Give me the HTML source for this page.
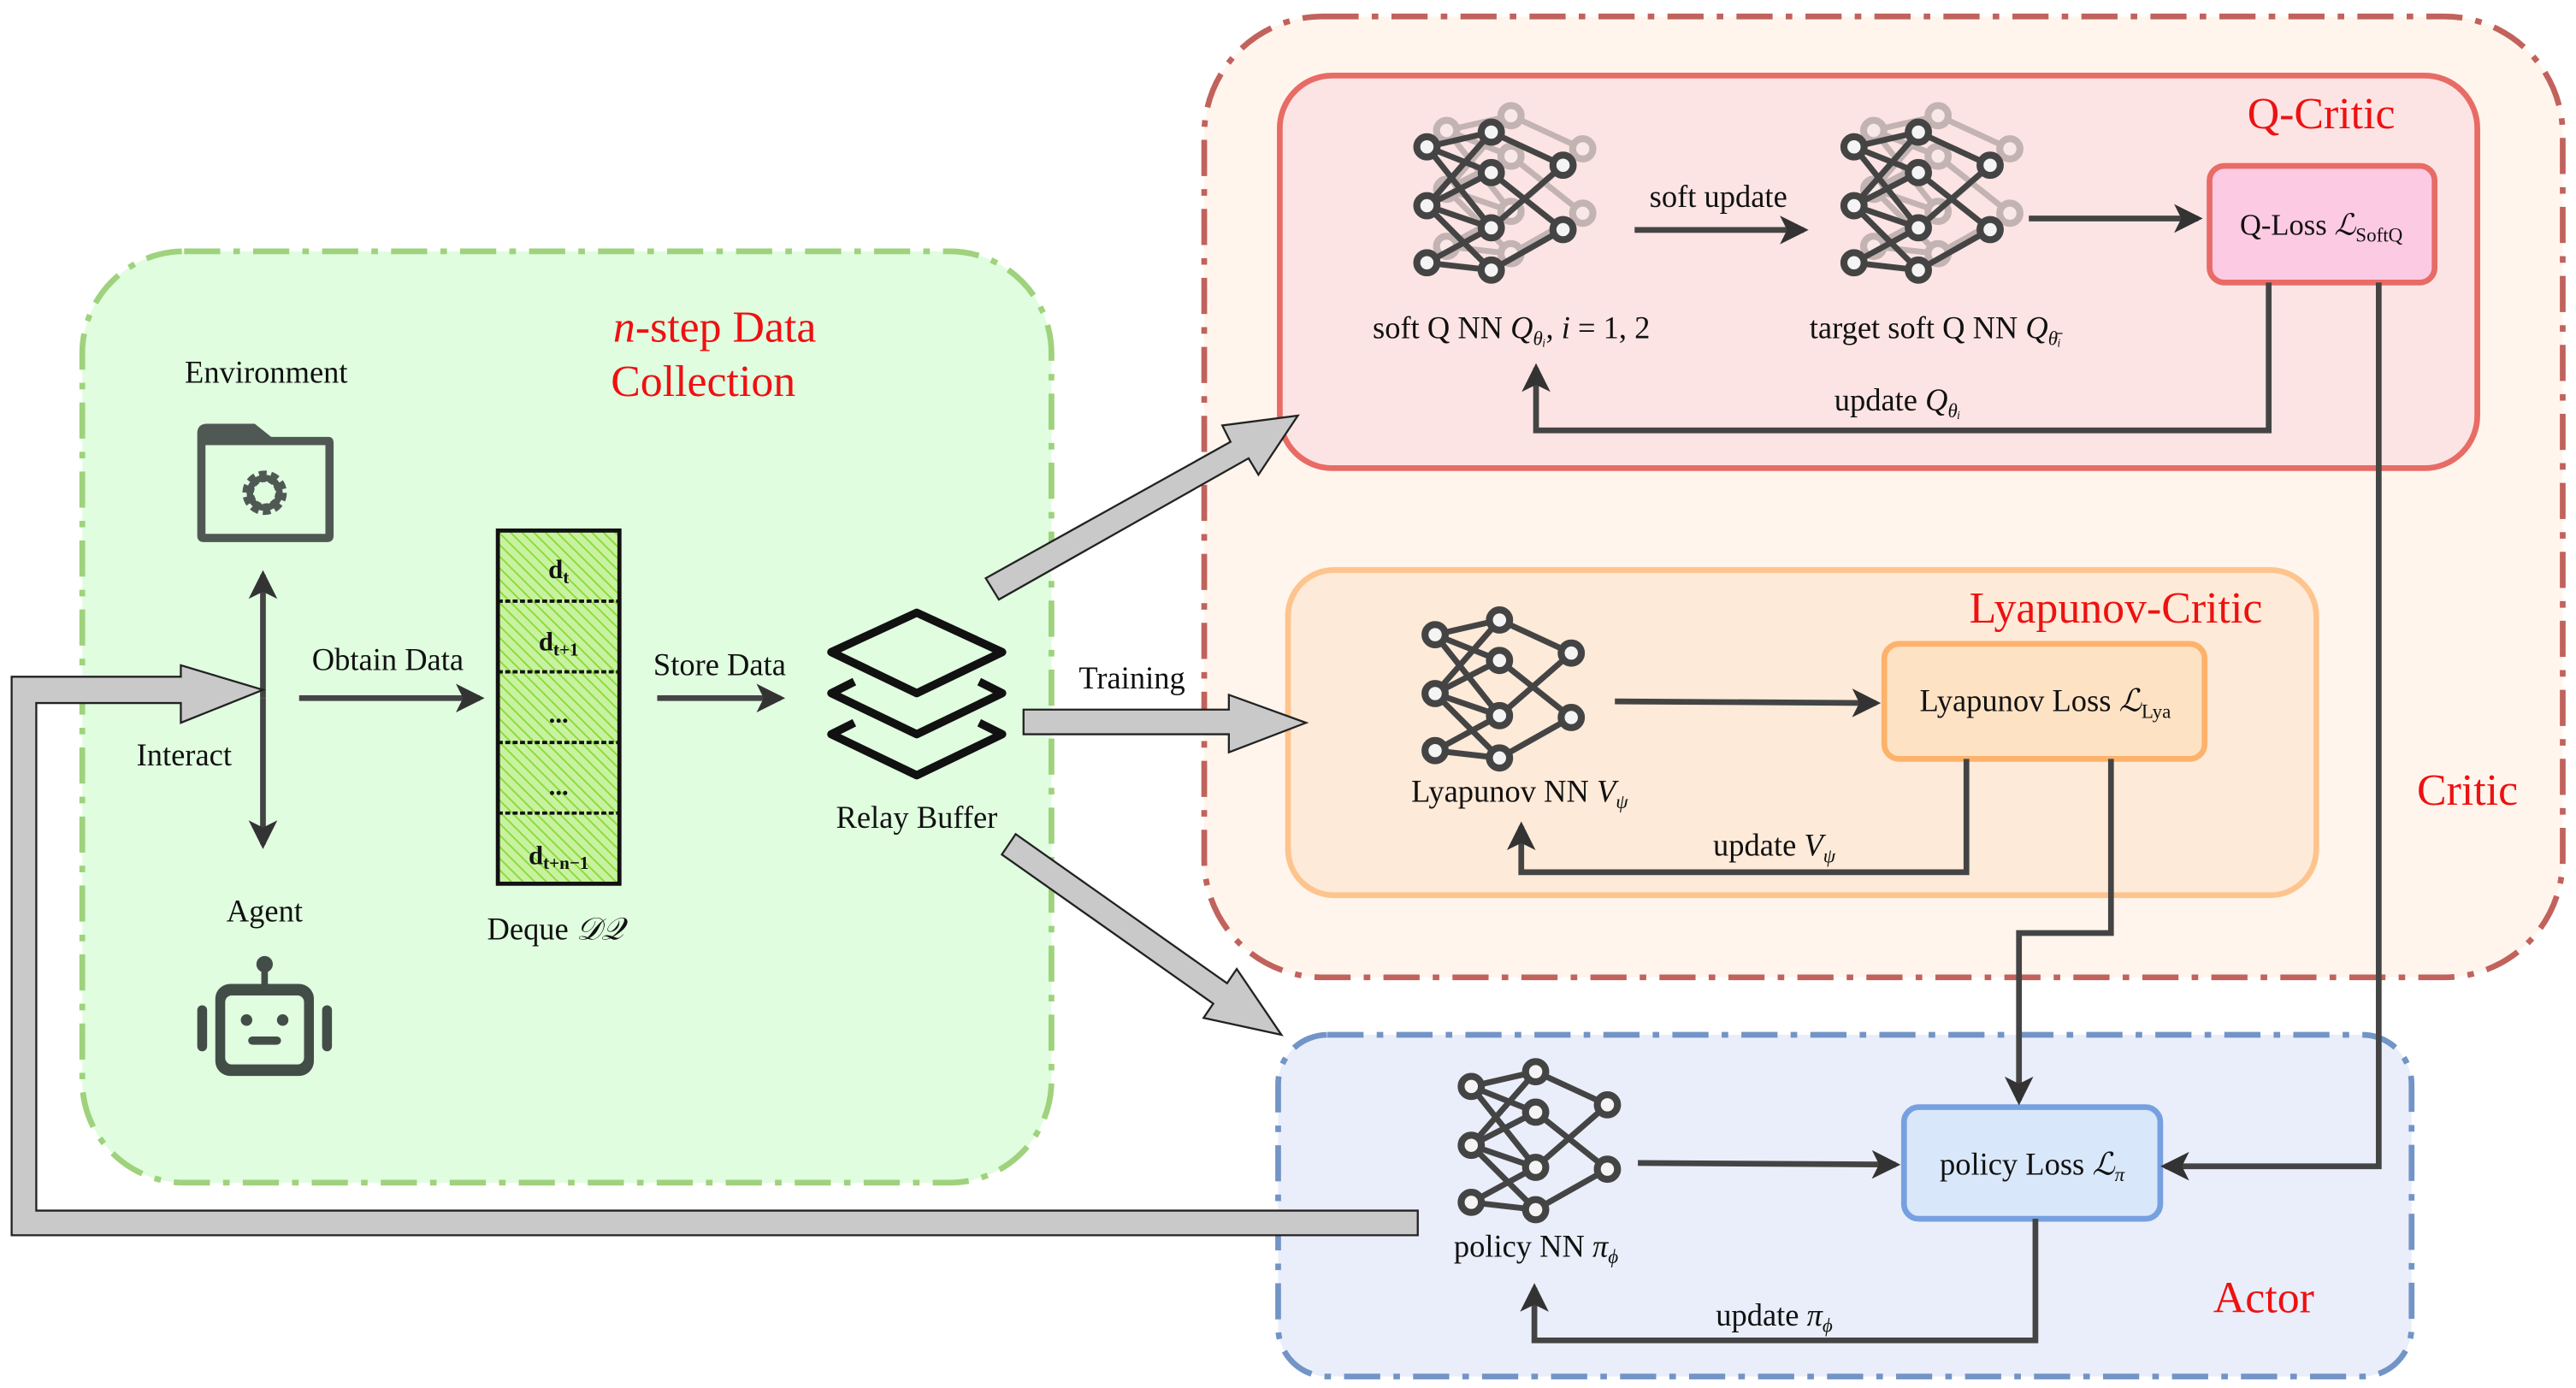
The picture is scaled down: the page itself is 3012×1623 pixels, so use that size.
<!DOCTYPE html>
<html><head><meta charset="utf-8"><style>
html,body{margin:0;padding:0;background:#fff;}
svg{display:block;}
text{font-family:"Liberation Serif",serif;}
</style></head><body>
<svg width="3012" height="1623" viewBox="0 0 1568 845" xmlns="http://www.w3.org/2000/svg">
<defs>
<marker id="ah" viewBox="0 0 12 12" refX="10" refY="6" markerWidth="5" markerHeight="5" orient="auto" markerUnits="strokeWidth">
<path d="M0,0 L12,6 L0,12 L3,6 Z" fill="#333"/></marker>
<g id="nn">
<g stroke="#444" stroke-width="3.2" fill="none">
<path d="M-37,-30 L-2,-38 M-37,-30 L-2,-16 M-37,-30 L-2,14 M-37,2 L-2,-38 M-37,2 L-2,-16 M-37,2 L-2,14 M-37,2 L-2,37 M-37,33 L-2,14 M-37,33 L-2,37 M-2,-38 L37,-20 M-2,-16 L37,15 M-2,14 L37,-20 M-2,37 L37,15"/>
</g>
<g stroke="#444" stroke-width="3.8" fill="#f4f4f4">
<circle cx="-37" cy="-30" r="5.5"/><circle cx="-37" cy="2" r="5.5"/><circle cx="-37" cy="33" r="5.5"/>
<circle cx="-2" cy="-38" r="5.5"/><circle cx="-2" cy="-16" r="5.5"/><circle cx="-2" cy="14" r="5.5"/><circle cx="-2" cy="37" r="5.5"/>
<circle cx="37" cy="-20" r="5.5"/><circle cx="37" cy="15" r="5.5"/>
</g>
</g>
</defs>

<rect x="50" y="153" width="590" height="567" rx="62" fill="#e0fde0" stroke="#9fd27c" stroke-width="3.5" stroke-dasharray="22,8,4,8"/>
<rect x="733" y="10" width="827" height="585" rx="72" fill="#fff5ec" stroke="#c1625d" stroke-width="3.5" stroke-dasharray="22,8,4,8"/>
<rect x="779" y="46" width="729" height="239" rx="32" fill="#fce4e4" stroke="#e86b66" stroke-width="3.5"/>
<rect x="784" y="347" width="626" height="198" rx="28" fill="#feead8" stroke="#fdc48e" stroke-width="3.5"/>
<rect x="778" y="630" width="690" height="208" rx="30" fill="#e9eefa" stroke="#7294c7" stroke-width="3.5" stroke-dasharray="22,8,4,8"/>

<rect x="1345" y="101" width="137" height="71" rx="9" fill="#fccae2" stroke="#e86b66" stroke-width="3.5"/>
<rect x="1147" y="392" width="195" height="70" rx="9" fill="#fee2c4" stroke="#fdb26c" stroke-width="3.5"/>
<rect x="1159" y="674" width="156" height="68" rx="9" fill="#d9e7fa" stroke="#77a0e0" stroke-width="3.5"/>

<g fill="#ee1111" font-size="27">
<text x="1413" y="78" text-anchor="middle">Q-Critic</text>
<text x="1288" y="379" text-anchor="middle">Lyapunov-Critic</text>
<text x="1502" y="490" text-anchor="middle">Critic</text>
<text x="1378" y="799" text-anchor="middle">Actor</text>
<text x="435" y="208" text-anchor="middle" font-size="27"><tspan font-style="italic">n</tspan>-step Data</text>
<text x="428" y="241" text-anchor="middle" font-size="27">Collection</text>
</g>

<g opacity="0.3"><use href="#nn" transform="translate(922,113) scale(1.12)"/><use href="#nn" transform="translate(1182,113) scale(1.12)"/></g>
<use href="#nn" transform="translate(910,123) scale(1.12)"/>
<use href="#nn" transform="translate(1170,123) scale(1.12)"/>
<use href="#nn" transform="translate(915,420) scale(1.12)"/>
<use href="#nn" transform="translate(937,695) scale(1.12)"/>

<g fill="#111" font-size="19">
<text x="1046" y="126" text-anchor="middle">soft update</text>
<text x="920" y="206" text-anchor="middle">soft Q NN <tspan font-style="italic">Q</tspan><tspan font-size="12" dy="4" font-style="italic">θᵢ</tspan><tspan dy="-4">, </tspan><tspan font-style="italic">i</tspan> = 1, 2</text>
<text x="1178" y="206" text-anchor="middle">target soft Q NN <tspan font-style="italic">Q</tspan><tspan font-size="12" dy="4" font-style="italic">θ̄ᵢ</tspan></text>
<text x="1413" y="143" text-anchor="middle" font-size="18">Q-Loss <tspan font-style="italic">ℒ</tspan><tspan font-size="12" dy="4">SoftQ</tspan></text>
<text x="1155" y="250" text-anchor="middle">update <tspan font-style="italic">Q</tspan><tspan font-size="12" dy="4" font-style="italic">θᵢ</tspan></text>
<text x="1245" y="433" text-anchor="middle">Lyapunov Loss <tspan font-style="italic">ℒ</tspan><tspan font-size="12" dy="4">Lya</tspan></text>
<text x="925" y="488" text-anchor="middle">Lyapunov NN <tspan font-style="italic">V</tspan><tspan font-size="12" dy="4" font-style="italic">ψ</tspan></text>
<text x="1080" y="521" text-anchor="middle">update <tspan font-style="italic">V</tspan><tspan font-size="12" dy="4" font-style="italic">ψ</tspan></text>
<text x="1237" y="715" text-anchor="middle">policy Loss <tspan font-style="italic">ℒ</tspan><tspan font-size="12" dy="4" font-style="italic">π</tspan></text>
<text x="935" y="765" text-anchor="middle">policy NN <tspan font-style="italic">π</tspan><tspan font-size="12" dy="4" font-style="italic">ϕ</tspan></text>
<text x="1080" y="807" text-anchor="middle">update <tspan font-style="italic">π</tspan><tspan font-size="12" dy="4" font-style="italic">ϕ</tspan></text>
<text x="689" y="419" text-anchor="middle">Training</text>
<text x="162" y="233" text-anchor="middle">Environment</text>
<text x="161" y="561" text-anchor="middle">Agent</text>
<text x="112" y="466" text-anchor="middle">Interact</text>
<text x="236" y="408" text-anchor="middle">Obtain Data</text>
<text x="438" y="411" text-anchor="middle">Store Data</text>
<text x="558" y="504" text-anchor="middle">Relay Buffer</text>
<text x="338" y="572" text-anchor="middle">Deque <tspan font-style="italic">𝒟𝒬</tspan></text>
</g>

<g stroke="#444" stroke-width="3.5" fill="none" marker-end="url(#ah)">
<path d="M995,140 L1098,140"/>
<path d="M1235,133 L1338,133"/>
<path d="M1381,172 L1381,262 L935,262 L935,224"/>
<path d="M1448,172 L1448,710 L1318,710"/>
<path d="M983,427 L1142,428"/>
<path d="M1197,462 L1197,531 L926,531 L926,503"/>
<path d="M1285,462 L1285,568 L1229,568 L1229,670"/>
<path d="M997,708 L1154,709"/>
<path d="M1239,742 L1239,816 L934,816 L934,784"/>
<path d="M182,425 L292,425"/>
<path d="M400,425 L475,425"/>
<path d="M160,425 L160,350" />
<path d="M160,425 L160,514" />
</g>

<g fill="#c9c9c9" stroke="#222" stroke-width="1.2">
<path d="M863,737 L863,752 L7,752 L7,412 L110,412 L110,405 L160,420 L110,440 L110,428 L22,428 L22,737 Z"/>
<path d="M600,352 L749,269 L744,259 L790,253 L766,289 L760,279 L608,365 Z"/>
<path d="M623,432 L748,432 L748,423 L795,440 L748,458 L748,447 L623,447 Z"/>
<path d="M618.2,507.8 L746.9,598.6 L752.8,589.9 L780,630 L732.6,619.7 L738.5,611 L609.8,520.2 Z"/>
</g>

<g>
<path d="M120,264 Q120,258 126,258 L155,258 L165,266 L200,266 Q203,266 203,270 L203,326 Q203,330 199,330 L124,330 Q120,330 120,326 Z" fill="#505854"/>
<rect x="125" y="271" width="73" height="54" fill="#e0fde0"/>
<circle cx="161" cy="300" r="10" fill="none" stroke="#505854" stroke-width="7" stroke-dasharray="4,2.3"/>
<circle cx="161" cy="300" r="9" fill="none" stroke="#505854" stroke-width="4"/>
</g>
<g fill="#434d48">
<circle cx="161" cy="587" r="5"/>
<rect x="159" y="587" width="4" height="12"/>
<rect x="131" y="599" width="60" height="56" rx="9"/>
<rect x="137" y="606" width="48" height="42" rx="4" fill="#e0fde0"/>
<circle cx="150" cy="621" r="3.5"/><circle cx="172" cy="621" r="3.5"/>
<rect x="151" y="631" width="20" height="5" rx="2.5"/>
<rect x="120" y="612" width="6" height="28" rx="3"/><rect x="196" y="612" width="6" height="28" rx="3"/>
</g>

<defs><pattern id="hatch" width="5" height="5" patternUnits="userSpaceOnUse" patternTransform="rotate(-45)"><rect width="5" height="5" fill="#c8f2a0"/><line x1="0" y1="0" x2="0" y2="5" stroke="#8adc3a" stroke-width="2"/></pattern></defs>
<rect x="303" y="323" width="74" height="215" fill="url(#hatch)" stroke="#111" stroke-width="2.5"/>
<g stroke="#111" stroke-width="2" stroke-dasharray="3,1.5">
<line x1="303" y1="366" x2="377" y2="366"/><line x1="303" y1="409" x2="377" y2="409"/>
<line x1="303" y1="452" x2="377" y2="452"/><line x1="303" y1="495" x2="377" y2="495"/>
</g>
<g font-size="16" font-weight="bold" fill="#111" text-anchor="middle">
<text x="340" y="352">d<tspan font-size="11" dy="3">t</tspan></text>
<text x="340" y="396">d<tspan font-size="11" dy="3">t+1</tspan></text>
<text x="340" y="440">...</text>
<text x="340" y="484">...</text>
<text x="340" y="526">d<tspan font-size="11" dy="3">t+n−1</tspan></text>
</g>

<g fill="none" stroke="#111" stroke-width="5" stroke-linejoin="round">
<path d="M558,373 L610,397 L558,422 L506,397 Z"/>
<path d="M520,415 L506,422 L558,447 L610,422 L596,415"/>
<path d="M520,440 L506,447 L558,472 L610,447 L596,440"/>
</g>
</svg>
</body></html>
